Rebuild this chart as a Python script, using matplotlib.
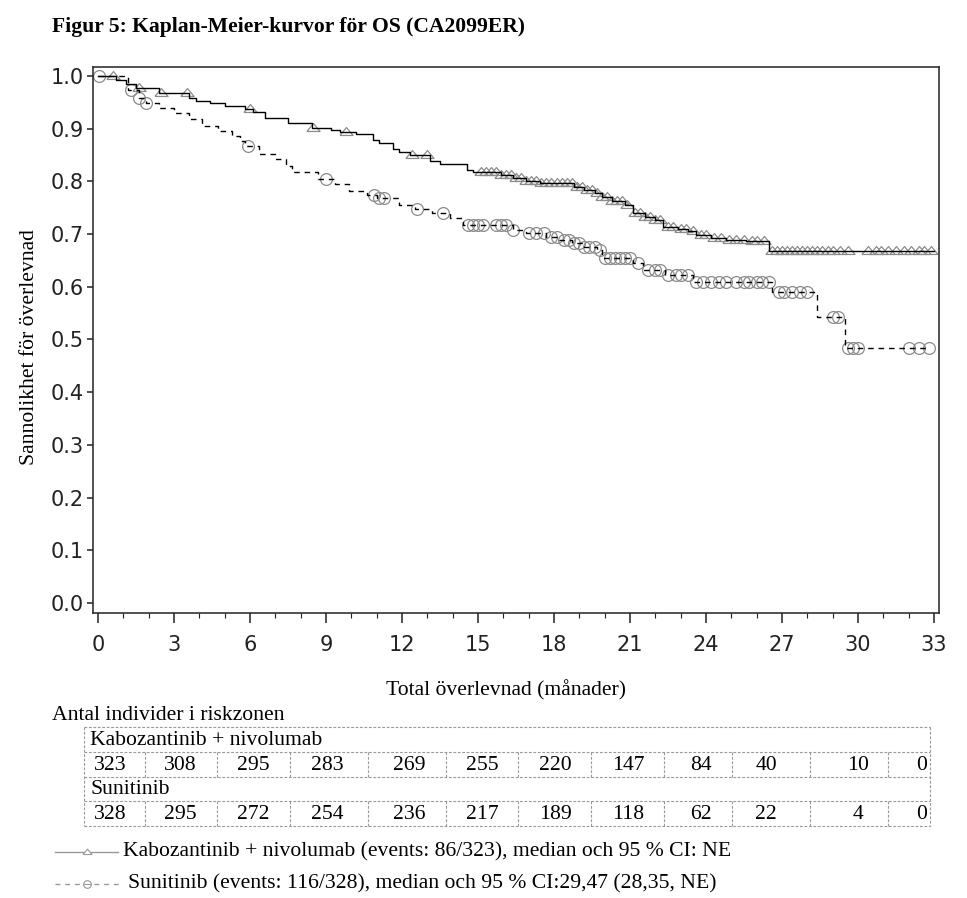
import numpy as np
import matplotlib
matplotlib.use("Agg")
import matplotlib.pyplot as plt
from matplotlib.ticker import MultipleLocator, FormatStrFormatter

# %% data (months, survival probability)
kabo_t = [0, 0.7, 1.1, 1.5, 2.4, 3.6, 3.85, 4.4, 5.0, 5.8, 6.1, 6.6, 7.5, 8.45,
          9.2, 9.55, 10.2, 10.85, 11.1, 11.65, 11.9, 12.3, 13.1, 13.5, 14.55,
          14.8, 15.9, 16.4, 16.9, 17.45, 18.8, 19.2, 19.6, 19.9, 20.3, 20.8,
          21.1, 21.6, 22.0, 22.3, 22.9, 23.3, 23.6, 24.2, 24.8, 25.6, 26.5]
kabo_s = [1.0, 0.993, 0.985, 0.978, 0.968, 0.958, 0.953, 0.948, 0.943, 0.937,
          0.932, 0.921, 0.911, 0.902, 0.897, 0.894, 0.890, 0.879, 0.873, 0.861,
          0.856, 0.850, 0.839, 0.833, 0.822, 0.818, 0.812, 0.806, 0.800, 0.797,
          0.790, 0.784, 0.777, 0.770, 0.763, 0.755, 0.740, 0.733, 0.727, 0.714,
          0.709, 0.705, 0.698, 0.693, 0.689, 0.686, 0.668]
kabo_end = 33.0
kabo_cens = [0.6, 1.6, 2.5, 3.5, 6.0, 8.5, 9.8, 12.4, 13.0, 15.1, 15.3, 15.5,
             15.7, 15.9, 16.1, 16.3, 16.5, 16.7, 16.9, 17.1, 17.3, 17.5, 17.7,
             17.9, 18.1, 18.3, 18.5, 18.7, 18.9, 19.1, 19.3, 19.5, 19.7, 19.9,
             20.1, 20.3, 20.5, 20.7, 20.9, 21.2, 21.4, 21.6, 21.8, 22.0, 22.2,
             22.5, 22.7, 23.0, 23.2, 23.5, 23.8, 24.0, 24.3, 24.6, 24.9, 25.2,
             25.5, 25.8, 26.0, 26.3, 26.6, 26.8, 27.0, 27.2, 27.4, 27.6, 27.8,
             28.0, 28.2, 28.4, 28.6, 28.8, 29.0, 29.3, 29.6, 30.4, 30.7, 30.9,
             31.2, 31.5, 31.8, 32.1, 32.4, 32.6, 32.9]

suni_t = [0, 1.2, 1.6, 1.9, 2.4, 3.0, 3.6, 4.1, 4.75, 5.3, 5.6, 5.8, 6.35, 7.0,
          7.4, 7.65, 8.7, 9.35, 9.9, 10.6, 11.0, 11.9, 12.5, 13.2, 13.9, 14.4,
          16.4, 16.9, 17.7, 18.2, 18.7, 19.2, 19.7, 19.9, 21.1, 21.5, 22.4,
          23.5, 26.6, 28.4, 29.5]
suni_s = [1.0, 0.973, 0.959, 0.948, 0.940, 0.930, 0.918, 0.905, 0.896, 0.886,
          0.876, 0.867, 0.852, 0.842, 0.830, 0.817, 0.804, 0.795, 0.782, 0.774,
          0.768, 0.755, 0.748, 0.740, 0.730, 0.717, 0.708, 0.702, 0.695, 0.689,
          0.683, 0.676, 0.670, 0.655, 0.645, 0.632, 0.622, 0.609, 0.590, 0.543,
          0.484]
suni_end = 32.85
suni_cens = [0.05, 1.3, 1.6, 1.9, 5.9, 9.0, 10.9, 11.1, 11.3, 12.6, 13.6, 14.6,
             14.8, 15.0, 15.2, 15.7, 15.9, 16.1, 16.4, 17.0, 17.3, 17.6, 17.9,
             18.1, 18.4, 18.6, 18.8, 19.0, 19.2, 19.4, 19.6, 19.8, 20.0, 20.2,
             20.4, 20.6, 20.8, 21.0, 21.3, 21.7, 22.0, 22.2, 22.5, 22.8, 23.0,
             23.3, 23.6, 23.9, 24.2, 24.5, 24.8, 25.2, 25.5, 25.7, 26.0, 26.2,
             26.5, 26.9, 27.1, 27.4, 27.7, 28.0, 29.0, 29.2, 29.6, 29.8, 30.0,
             32.0, 32.4, 32.8]

risk_kabo = [323, 308, 295, 283, 269, 255, 220, 147, 84, 40, 10, 0]
risk_suni = [328, 295, 272, 254, 236, 217, 189, 118, 62, 22, 4, 0]

arm_labels = ["Kabozantinib + nivolumab", "Sunitinib"]
legend_texts = [
    "Kabozantinib + nivolumab (events: 86/323), median och 95 % CI: NE",
    "Sunitinib (events: 116/328), median och 95 % CI:29,47 (28,35, NE)",
]
xticks = np.arange(0, 34, 3)
yticks = np.arange(0, 1.01, 0.1)

# %% layout (pixels of the 967x898 target)
W, H = 967, 898
serif = "Liberation Serif"
fs = 15.6
grey = "#8c8c8c"
tri = [(-1, -0.45), (1, -0.45), (0, 0.75), (-1, -0.45)]

fig = plt.figure(figsize=(W / 100, H / 100), dpi=100)
ax = fig.add_axes([93 / W, 1 - 613 / H, 846 / W, 546 / H])
ov = fig.add_axes([0, 0, 1, 1], zorder=-1)
ov.set_xlim(0, W)
ov.set_ylim(H, 0)
ov.axis("off")


def step_at(t, s, c):
    idx = np.searchsorted(t, c, side="right") - 1
    return np.asarray(s)[idx]


# censor marks first, curves drawn over them
ax.plot(kabo_cens, step_at(kabo_t, kabo_s, kabo_cens), ls="none", marker=tri,
        ms=9.5, mfc="none", mec=grey, mew=0.9, zorder=2)
ax.plot(suni_cens, step_at(suni_t, suni_s, suni_cens), ls="none", marker="o",
        ms=8.5, mfc="none", mec=grey, mew=0.9, zorder=2)
ax.step(kabo_t + [kabo_end], kabo_s + [kabo_s[-1]], where="post", color="black",
        lw=1.0, zorder=3)
ax.step(suni_t + [suni_end], suni_s + [suni_s[-1]], where="post", color="black",
        lw=1.0, ls=(0, (4, 3.5)), zorder=3)

ax.set_xlim(-0.2, 33.2)
ax.set_ylim(-0.019, 1.017)
ax.set_xticks(xticks)
ax.xaxis.set_minor_locator(MultipleLocator(1))
ax.set_yticks(yticks)
ax.yaxis.set_major_formatter(FormatStrFormatter("%.1f"))
ax.tick_params(axis="x", which="major", length=7, width=1.1, pad=9,
               labelsize=15, colors="#222222")
ax.tick_params(axis="x", which="minor", length=3.6, width=0.8, colors="#222222")
ax.tick_params(axis="y", which="major", length=4.3, width=1.1, pad=2.5,
               labelsize=15, colors="#222222")
for sp in ax.spines.values():
    sp.set_linewidth(1.1)
    sp.set_color("#222222")

# %% texts
ov.text(52, 27, "Figur 5: Kaplan-Meier-kurvor för OS (CA2099ER)", family=serif,
        fontsize=fs, fontweight="bold", ha="left", va="center")
ov.text(30, 347, "Sannolikhet för överlevnad", family=serif, fontsize=fs,
        rotation=90, ha="center", va="center")
ov.text(506, 690, "Total överlevnad (månader)", family=serif, fontsize=fs,
        ha="center", va="center")
ov.text(52, 715, "Antal individer i riskzonen", family=serif, fontsize=fs,
        ha="left", va="center")

# %% number-at-risk table
tab_l, tab_r = 84, 930
row_y = [727, 752, 777, 801, 826]
col_x = [145, 217, 290, 368, 446, 518, 591, 664, 732, 810, 888]
num_x = [110, 180.5, 253.5, 327, 409, 482, 555, 628, 701, 766, 858, 922]
dash = dict(color="#999999", lw=0.8, ls=(0, (2.5, 1.5)))
for y in row_y:
    ov.plot([tab_l, tab_r], [y, y], **dash)
ov.plot([tab_l, tab_l], [row_y[0], row_y[-1]], **dash)
ov.plot([tab_r, tab_r], [row_y[0], row_y[-1]], **dash)
for r in (1, 3):
    for x in col_x:
        ov.plot([x, x], [row_y[r], row_y[r + 1]], **dash)

for r, (lab, counts) in enumerate(zip(arm_labels, [risk_kabo, risk_suni])):
    yl = (row_y[2 * r] + row_y[2 * r + 1]) / 2 + 1
    yn = (row_y[2 * r + 1] + row_y[2 * r + 2]) / 2 + 1
    ov.text(90, yl, lab, family=serif, fontsize=fs, ha="left", va="center")
    for x, n in zip(num_x, counts):
        ov.text(x, yn, str(n), family=serif, fontsize=fs, ha="center", va="center")

# %% legend
lg = "#999999"
ov.plot([55, 118], [852, 852], color=lg, lw=1.0)
ov.plot([87], [852], ls="none", marker=tri, ms=6.5, mfc="white", mec=lg, mew=0.8)
ov.text(123, 852, legend_texts[0], family=serif, fontsize=fs, ha="left", va="center")
ov.plot([55, 120], [884, 884], color=lg, lw=1.0, ls=(0, (3.5, 3.5)))
ov.plot([87], [884], ls="none", marker="o", ms=5.5, mfc="white", mec=lg, mew=0.8)
ov.plot([84, 90], [884, 884], color=lg, lw=0.8)
ov.text(128, 884, legend_texts[1], family=serif, fontsize=fs, ha="left", va="center")

fig.savefig("out.png", dpi=100)
